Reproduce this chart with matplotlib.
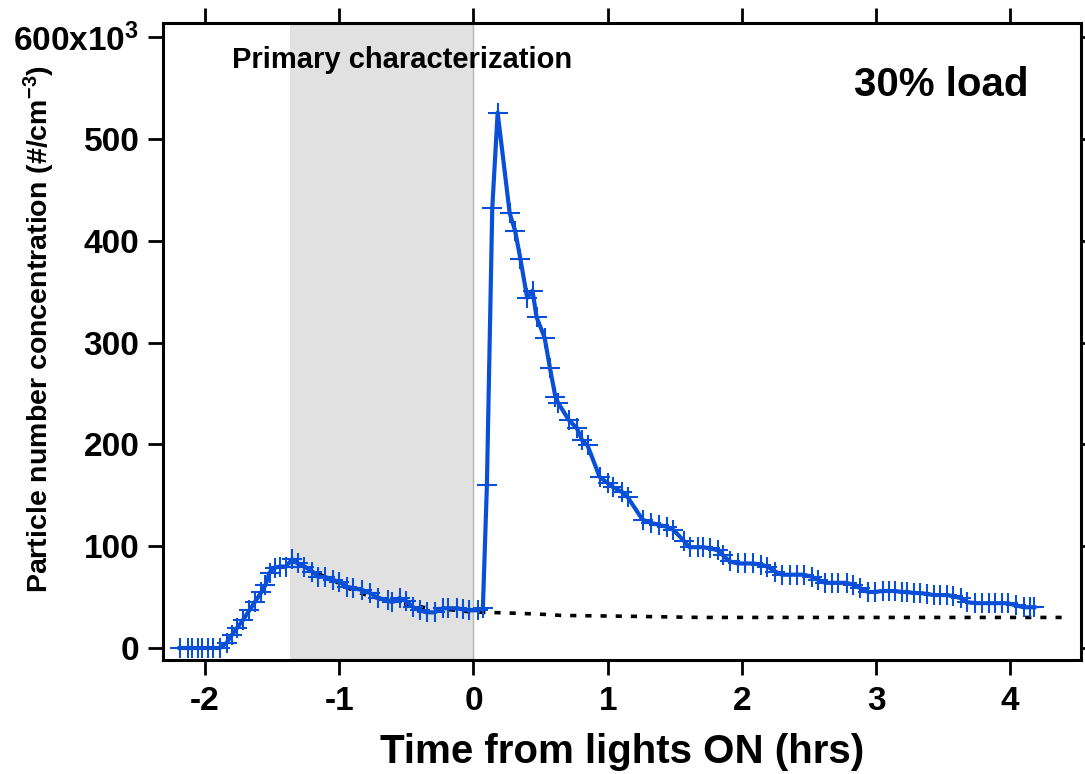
import numpy as np
import matplotlib
matplotlib.use("Agg")
import matplotlib.pyplot as plt

plt.rcParams['font.family'] = ['Liberation Sans', 'DejaVu Sans']
plt.rcParams['font.weight'] = 'bold'
plt.rcParams['mathtext.fontset'] = 'custom'
plt.rcParams['mathtext.rm'] = 'Liberation Sans'
plt.rcParams['mathtext.default'] = 'regular'

# ===== data: particle number (x10^3 #/cm3) vs time (hrs) =====
t_obs = [-2.19, -2.13, -2.10, -2.05, -2.02, -1.98, -1.94, -1.89,
         -1.84, -1.80, -1.76, -1.72, -1.67, -1.63, -1.58, -1.55,
         -1.52, -1.48, -1.44, -1.40, -1.35, -1.31, -1.26, -1.20,
         -1.16, -1.11, -1.05, -1.00, -0.94, -0.90, -0.83, -0.77,
         -0.71, -0.64, -0.61, -0.55, -0.50, -0.45, -0.40, -0.35,
         -0.29, -0.23, -0.19, -0.12, -0.08, -0.03, 0.03, 0.07,
         0.10, 0.14, 0.18, 0.27, 0.31, 0.35, 0.40, 0.44,
         0.47, 0.53, 0.57, 0.61, 0.63, 0.71, 0.77, 0.81,
         0.85, 0.94, 1.00, 1.04, 1.11, 1.15, 1.26, 1.32,
         1.38, 1.44, 1.49, 1.57, 1.61, 1.67, 1.71, 1.76,
         1.82, 1.86, 1.91, 1.97, 2.02, 2.08, 2.14, 2.19,
         2.25, 2.30, 2.36, 2.41, 2.46, 2.52, 2.57, 2.62,
         2.67, 2.72, 2.78, 2.83, 2.88, 2.94, 2.99, 3.05,
         3.10, 3.14, 3.19, 3.23, 3.28, 3.33, 3.38, 3.43,
         3.48, 3.53, 3.57, 3.63, 3.68, 3.74, 3.79, 3.84,
         3.89, 3.94, 3.98, 4.04, 4.10, 4.15, 4.18]
n_obs = [0, 0, 0, 0, 0, 0, 0, 0,
         5, 13, 20, 27, 37, 45, 55, 62,
         74, 79, 80, 80, 87, 83, 80, 75,
         70, 70, 67, 65, 60, 59, 57, 54,
         49, 47, 45, 49, 46, 40, 37, 35,
         35, 39, 39, 39, 38, 37, 37, 39,
         160, 432, 526, 427, 410, 382, 344, 351,
         325, 305, 275, 247, 241, 224, 216, 204,
         199, 168, 162, 158, 153, 148, 126, 123,
         121, 119, 116, 105, 99, 99, 99, 98,
         96, 91, 85, 83, 83, 83, 82, 80,
         75, 72, 72, 72, 72, 70, 67, 64,
         64, 64, 64, 62, 59, 55, 55, 56,
         56, 56, 55, 55, 54, 54, 53, 52,
         52, 52, 51, 49, 45, 44, 44, 44,
         44, 44, 44, 42, 40, 40, 40]

# dotted baseline (background decay)
t_base = [-1.35, -1.26, -1.16, -1.05, -0.96, -0.86, -0.76, -0.64,
          -0.55, -0.44, -0.34, -0.23, -0.12, 0.0, 0.10, 0.35,
          0.53, 0.65, 1.24, 1.69, 4.42]
n_base = [87, 80, 73, 67, 60, 55, 50, 48,
          44, 42, 39, 38, 37, 35, 35, 34,
          33, 32, 31, 30, 30]

shade_start, shade_end = -1.37, 0.0

x_ticks = [-2, -1, 0, 1, 2, 3, 4]
y_ticks = [0, 100, 200, 300, 400, 500, 600]
y_ticklabels = ['0', '100', '200', '300', '400', '500', '600x10$^{3}$']

# ===== figure =====
fig = plt.figure(figsize=(10.85, 7.74), dpi=100)
ax = fig.add_axes([0.1502, 0.1473, 0.8462, 0.823])

ax.axvspan(shade_start, shade_end, color='#e1e1e1', lw=0, zorder=0)
ax.axvline(0, color='#b4b4b4', lw=1.0, zorder=1)

blue = '#0a4fd8'
ax.plot(t_base, n_base, color='black', lw=2.6,
        linestyle=(0, (1.7, 2.5)), zorder=3)
ax.plot(t_obs, n_obs, color=blue, lw=3.0, marker='+',
        markersize=15, markeredgewidth=1.5, zorder=4)

ax.set_xlim(-2.314, 4.528)
ax.set_ylim(-11.8, 614)
ax.set_xticks(x_ticks)
ax.set_xticklabels([str(v) for v in x_ticks])
ax.set_yticks(y_ticks)
ax.set_yticklabels(y_ticklabels)

for s in ax.spines.values():
    s.set_linewidth(2.2)
ax.tick_params(axis='both', which='major', direction='out', length=11,
               width=2.0, labelsize=24, top=True, right=True,
               labeltop=False, labelright=False)
ax.tick_params(axis='x', pad=8)
ax.tick_params(axis='y', pad=6)

ax.set_xlabel('Time from lights ON (hrs)', fontsize=29, fontweight='bold',
              labelpad=11)
ax.set_ylabel('Particle number concentration (#/cm$^{-3}$)', fontsize=20.5,
              fontweight='bold')
ax.yaxis.set_label_coords(-0.115, 0.52)

ax.text(-1.80, 578, 'Primary characterization', fontsize=21,
        fontweight='bold', va='center', ha='left')
ax.text(4.135, 553, '30% load', fontsize=29, fontweight='bold',
        va='center', ha='right')

fig.savefig('out.png', dpi=100)
